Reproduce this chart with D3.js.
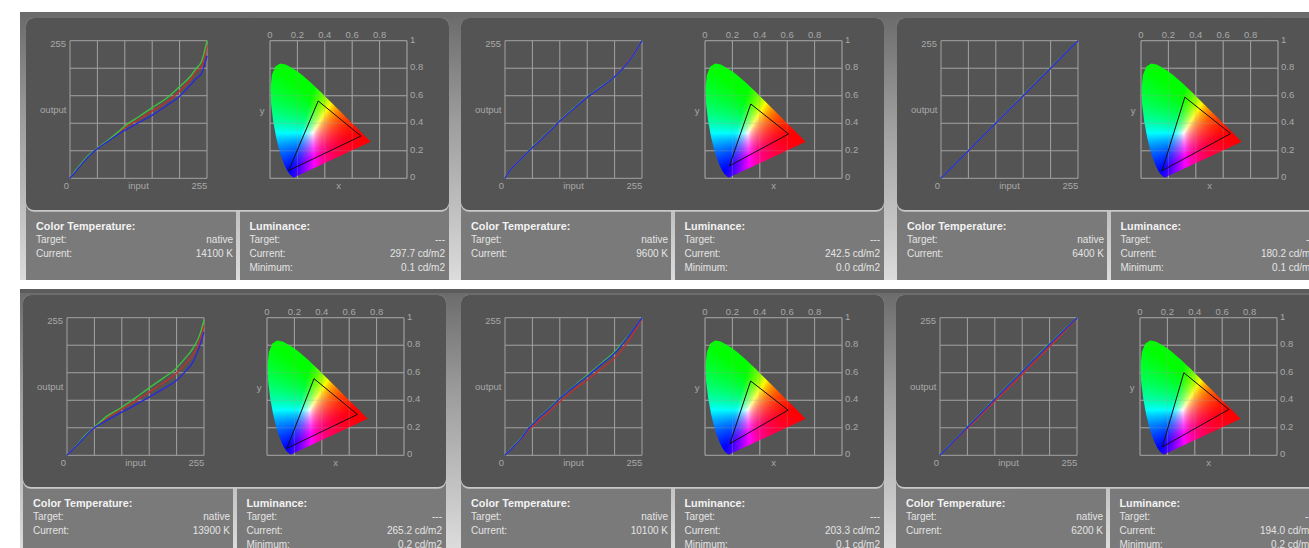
<!DOCTYPE html>
<html>
<head>
<meta charset="utf-8">
<script src="https://cdn.jsdelivr.net/npm/d3@7"></script>
<style>
  html, body { margin: 0; padding: 0; background: #ffffff; }
  svg { display: block; font-family: Arial, "Liberation Sans", sans-serif; }
</style>
</head>
<body>
<svg id="chart" width="1309" height="548"></svg>
<script>
// ---------------- Gamma curves (input 0-255 -> output 0-255) ----------------
const gammaIn1    = [0, 10, 20, 35, 51, 70, 90, 102, 128, 153, 179, 204, 225, 235, 245, 255];
const gammaRed1   = [0, 13, 25, 42, 56, 69, 84, 94, 109, 125, 141, 162, 184, 198, 207, 247];
const gammaGreen1 = [0, 14, 26, 43, 56, 70, 86, 97, 114, 131, 148, 170, 190, 204, 217, 255];
const gammaBlue1  = [0, 12, 24, 41, 55, 68, 82, 89, 103, 117, 134, 152, 174, 185, 195, 227];

const gammaIn2    = [0, 12, 28, 51, 65, 85, 102, 128, 153, 179, 204, 215, 230, 255];
const gammaRed2   = [0, 19, 35, 58, 71, 90, 107, 129, 150, 169, 188, 200, 218, 255];
const gammaGreen2 = [0, 18, 34, 58, 71, 90, 107, 130, 151, 170, 188, 199, 216, 255];
const gammaBlue2  = [0, 18, 34, 57, 70, 89, 106, 129, 150, 169, 188, 199, 216, 255];

const gammaIn3    = [0, 51, 102, 153, 204, 255];
const gammaRed3   = [0, 50, 101, 153, 204, 255];
const gammaGreen3 = [0, 51, 102, 154, 205, 255];
const gammaBlue3  = [0, 51, 102, 153, 204, 255];

const gammaIn4    = [0, 20, 35, 51, 75, 102, 128, 153, 179, 204, 220, 235, 248, 255];
const gammaRed4   = [0, 20, 37, 51, 70, 86, 101, 117, 134, 152, 169, 187, 215, 241];
const gammaGreen4 = [0, 21, 38, 52, 73, 89, 107, 125, 143, 162, 180, 199, 226, 251];
const gammaBlue4  = [0, 20, 36, 51, 65, 80, 94, 108, 123, 139, 155, 174, 206, 229];

const gammaIn5    = [0, 15, 30, 45, 55, 65, 80, 104, 128, 155, 180, 205, 230, 255];
const gammaRed5   = [0, 15, 30, 48, 56, 66, 79, 101, 121, 141, 161, 181, 212, 253];
const gammaGreen5 = [0, 16, 32, 52, 62, 72, 85, 108, 128, 150, 171, 193, 222, 255];
const gammaBlue5  = [0, 15, 31, 51, 61, 71, 84, 107, 127, 148, 169, 190, 221, 255];

const gammaIn6    = [0, 51, 102, 153, 204, 255];
const gammaRed6   = [0, 50, 100, 150, 201, 254];
const gammaGreen6 = [0, 53, 105, 156, 207, 255];
const gammaBlue6  = [0, 52, 104, 155, 206, 255];

// ---------------- Measured gamut primaries (CIE 1931 x, y) ----------------
const gamutRed   = [[0.664, 0.307], [0.610, 0.322], [0.654, 0.325], [0.660, 0.297], [0.607, 0.328], [0.648, 0.333]];
const gamutGreen = [[0.352, 0.562], [0.334, 0.540], [0.320, 0.590], [0.343, 0.557], [0.333, 0.540], [0.320, 0.600]];
const gamutBlue  = [[0.136, 0.056], [0.178, 0.090], [0.154, 0.055], [0.145, 0.050], [0.182, 0.085], [0.163, 0.060]];

// ---------------- Readouts ----------------
const colorTempTarget   = ["native", "native", "native", "native", "native", "native"];
const colorTempCurrent  = ["14100 K", "9600 K", "6400 K", "13900 K", "10100 K", "6200 K"];
const luminanceTarget   = ["---", "---", "---", "---", "---", "---"];
const luminanceCurrent  = ["297.7 cd/m2", "242.5 cd/m2", "180.2 cd/m2", "265.2 cd/m2", "203.3 cd/m2", "194.0 cd/m2"];
const luminanceMinimum  = ["0.1 cd/m2", "0.0 cd/m2", "0.1 cd/m2", "0.2 cd/m2", "0.1 cd/m2", "0.2 cd/m2"];

// ---------------- Axis ticks and labels ----------------
const gammaTicks = [0, 51, 102, 153, 204, 255];
const cieTicks = [0, 0.2, 0.4, 0.6, 0.8, 1];
const cieTopLabels = ["0", "0.2", "0.4", "0.6", "0.8"];
const cieSideLabels = ["0", "0.2", "0.4", "0.6", "0.8", "1"];

// CIE 1931 2° spectral locus, 380-700 nm
const spectralLocus = [
  [0.1741,0.0050],[0.1740,0.0050],[0.1738,0.0049],[0.1736,0.0049],[0.1733,0.0048],[0.1730,0.0048],
  [0.1726,0.0048],[0.1721,0.0048],[0.1714,0.0051],[0.1703,0.0058],[0.1689,0.0069],[0.1669,0.0086],
  [0.1644,0.0109],[0.1611,0.0138],[0.1566,0.0177],[0.1510,0.0227],[0.1440,0.0297],[0.1355,0.0399],
  [0.1241,0.0578],[0.1096,0.0868],[0.0913,0.1327],[0.0687,0.2007],[0.0454,0.2950],[0.0235,0.4127],
  [0.0082,0.5384],[0.0039,0.6548],[0.0139,0.7502],[0.0389,0.8120],[0.0743,0.8338],[0.1142,0.8262],
  [0.1547,0.8059],[0.1929,0.7816],[0.2296,0.7543],[0.2658,0.7243],[0.3016,0.6923],[0.3373,0.6589],
  [0.3731,0.6245],[0.4087,0.5896],[0.4441,0.5547],[0.4788,0.5202],[0.5125,0.4866],[0.5448,0.4544],
  [0.5752,0.4242],[0.6029,0.3965],[0.6270,0.3725],[0.6482,0.3514],[0.6658,0.3340],[0.6801,0.3197],
  [0.6915,0.3083],[0.7006,0.2993],[0.7079,0.2920],[0.7140,0.2859],[0.7190,0.2809],[0.7230,0.2770],
  [0.7260,0.2740],[0.7283,0.2717],[0.7300,0.2700],[0.7320,0.2680],[0.7334,0.2666],[0.7347,0.2653]
];

const gammaInputs = [gammaIn1, gammaIn2, gammaIn3, gammaIn4, gammaIn5, gammaIn6];
const gammaReds   = [gammaRed1, gammaRed2, gammaRed3, gammaRed4, gammaRed5, gammaRed6];
const gammaGreens = [gammaGreen1, gammaGreen2, gammaGreen3, gammaGreen4, gammaGreen5, gammaGreen6];
const gammaBlues  = [gammaBlue1, gammaBlue2, gammaBlue3, gammaBlue4, gammaBlue5, gammaBlue6];

// ---------------- Layout ----------------
const panelOrigins = [[26, 18], [461, 18], [897, 18], [23, 295], [461, 295], [896, 295]];
const rowBands = [{ y: 12, h: 268 }, { y: 289, h: 259 }];
const BOX_W = 423, BOX_H = 192;
const PLOT_W = 137, PLOT_H = 137.6;
const GRID_COLOR = "#a2a2a2";
const LABEL_COLOR = "#a8a8a8";
const channelColors = { red: "#c0302e", green: "#3cc23c", blue: "#2a2ad8" };

const svg = d3.select("#chart");
const defs = svg.append("defs");

const bgGrad = defs.append("linearGradient").attr("id", "rowBg")
  .attr("x1", 0).attr("y1", 0).attr("x2", 0).attr("y2", 1);
bgGrad.append("stop").attr("offset", "0%").attr("stop-color", "#6a6a6a");
bgGrad.append("stop").attr("offset", "40%").attr("stop-color", "#9c9c9c");
bgGrad.append("stop").attr("offset", "100%").attr("stop-color", "#dcdcdc");

rowBands.forEach(r => {
  svg.append("rect").attr("x", 20).attr("y", r.y).attr("width", 1289).attr("height", r.h)
    .attr("fill", "url(#rowBg)");
});
// dark toolbar strip along the top of the lower row
svg.append("rect").attr("x", 20).attr("y", 289).attr("width", 1289).attr("height", 4).attr("fill", "#5c5c5c");

// Scales shared by every panel
const gx = d3.scaleLinear().domain([0, 255]).range([0, PLOT_W]);
const gy = d3.scaleLinear().domain([0, 255]).range([PLOT_H, 0]);
const cx = d3.scaleLinear().domain([0, 1]).range([0, PLOT_W]);
const cy = d3.scaleLinear().domain([0, 1]).range([PLOT_H, 0]);

// Spectral locus clip
const locusPath = d3.line().x(d => cx(d[0])).y(d => cy(d[1]))(spectralLocus) + "Z";
defs.append("clipPath").attr("id", "locusClip").append("path").attr("d", locusPath);

// Chromaticity colours rendered to a bitmap (xyY -> XYZ -> sRGB, normalised to the brightest channel)
function chromaticityImage() {
  const k = 3;
  const cw = Math.round(PLOT_W * k), ch = Math.round(PLOT_H * k);
  const canvas = document.createElement("canvas");
  canvas.width = cw; canvas.height = ch;
  const ctx = canvas.getContext("2d");
  const img = ctx.createImageData(cw, ch);
  for (let j = 0; j < ch; j++) {
    for (let i = 0; i < cw; i++) {
      const x = cx.invert((i + 0.5) / k);
      const y = Math.max(cy.invert((j + 0.5) / k), 0.003);
      const X = x / y, Y = 1, Z = (1 - x - y) / y;
      let r = 3.2406 * X - 1.5372 * Y - 0.4986 * Z;
      let g = -0.9689 * X + 1.8758 * Y + 0.0415 * Z;
      let b = 0.0557 * X - 0.2040 * Y + 1.0570 * Z;
      r = Math.max(r, 0); g = Math.max(g, 0); b = Math.max(b, 0);
      const m = Math.max(r, g, b, 1e-6);
      const enc = v => Math.round(255 * Math.pow(v / m, 1.0));
      const p = (j * cw + i) * 4;
      img.data[p] = enc(r); img.data[p + 1] = enc(g); img.data[p + 2] = enc(b); img.data[p + 3] = 255;
    }
  }
  ctx.putImageData(img, 0, 0);
  return canvas.toDataURL();
}
const chromaURL = chromaticityImage();

function drawGrid(g, xs, ys, xt, yt, opacity) {
  const grid = g.append("g").attr("stroke", GRID_COLOR).attr("stroke-width", 1).attr("opacity", opacity);
  grid.selectAll(".v").data(xt).join("line")
    .attr("x1", d => xs(d)).attr("x2", d => xs(d)).attr("y1", 0).attr("y2", PLOT_H);
  grid.selectAll(".h").data(yt).join("line")
    .attr("x1", 0).attr("x2", PLOT_W).attr("y1", d => ys(d)).attr("y2", d => ys(d));
}

function label(g, x, y, text, anchor, opts = {}) {
  return g.append("text").attr("x", x).attr("y", y).attr("text-anchor", anchor)
    .attr("font-size", opts.size || 9.5).attr("font-weight", opts.weight || "normal")
    .attr("fill", opts.color || LABEL_COLOR).text(text);
}

panelOrigins.forEach(([ox, oy], i) => {
  const rowBottom = i < 3 ? 280 : 548;
  const g = svg.append("g").attr("transform", `translate(${ox},${oy})`);

  // readout boxes
  const infoTop = BOX_H - 4;
  const infoH = rowBottom - oy - infoTop;
  g.append("rect").attr("x", 0).attr("y", infoTop).attr("width", 210).attr("height", infoH).attr("fill", "#7a7a7a");
  g.append("rect").attr("x", 214).attr("y", infoTop).attr("width", BOX_W - 214).attr("height", infoH).attr("fill", "#7a7a7a");

  // dark chart box with a light lower rim
  g.append("rect").attr("x", 0).attr("y", 0).attr("width", BOX_W).attr("height", BOX_H + 1.8)
    .attr("rx", 8).attr("fill", "#c9c9c9");
  g.append("rect").attr("x", 0).attr("y", 0).attr("width", BOX_W).attr("height", BOX_H)
    .attr("rx", 8).attr("fill", "#545454");

  // ---- gamma plot ----
  const gg = g.append("g").attr("transform", "translate(44,22.7)");
  drawGrid(gg, gx, gy, gammaTicks, gammaTicks, 1);
  label(gg, -4, 6.7, "255", "end");
  label(gg, -3.5, 72.7, "output", "end");
  label(gg, -3.7, PLOT_H + 10.8, "0", "middle");
  label(gg, gx(127.5), PLOT_H + 10.8, "input", "middle");
  label(gg, PLOT_W + 0.3, PLOT_H + 10.8, "255", "end");

  const inputs = gammaInputs[i];
  const curve = d3.line().x(d => gx(d[0])).y(d => gy(d[1])).curve(d3.curveMonotoneX);
  [["red", gammaReds[i]], ["green", gammaGreens[i]], ["blue", gammaBlues[i]]].forEach(([ch, vals]) => {
    gg.append("path").datum(inputs.map((v, k) => [v, vals[k]]))
      .attr("d", curve).attr("fill", "none")
      .attr("stroke", channelColors[ch]).attr("stroke-width", 1.4);
  });

  // ---- CIE 1931 chromaticity plot ----
  const cg = g.append("g").attr("transform", "translate(244,22.7)");
  drawGrid(cg, cx, cy, cieTicks, cieTicks, 1);
  cg.append("image").attr("href", chromaURL).attr("x", 0).attr("y", 0)
    .attr("width", PLOT_W).attr("height", PLOT_H).attr("preserveAspectRatio", "none")
    .attr("clip-path", "url(#locusClip)");
  drawGrid(cg, cx, cy, cieTicks, cieTicks, 0.28);

  const tri = [gamutRed[i], gamutGreen[i], gamutBlue[i]];
  cg.append("path").attr("d", d3.line().x(d => cx(d[0])).y(d => cy(d[1]))(tri) + "Z")
    .attr("fill", "none").attr("stroke", "#111").attr("stroke-width", 1);

  cieTopLabels.forEach((t, k) => label(cg, cx(cieTicks[k]), -2.3, t, "middle"));
  cieSideLabels.forEach((t, k) => label(cg, PLOT_W + 3, cy(cieTicks[k]) + 2.2, t, "start"));
  label(cg, -8, 73.4, "y", "middle");
  label(cg, cx(0.5), PLOT_H + 10.8, "x", "middle");

  // ---- readouts ----
  const titleOpts = { size: 10.8, weight: "bold", color: "#f2f2f2" };
  const textOpts = { size: 10, color: "#e4e4e4" };
  label(g, 10, 211.7, "Color Temperature:", "start", titleOpts);
  label(g, 10, 225, "Target:", "start", textOpts);
  label(g, 207, 225, colorTempTarget[i], "end", textOpts);
  label(g, 10, 238.5, "Current:", "start", textOpts);
  label(g, 207, 238.5, colorTempCurrent[i], "end", textOpts);

  label(g, 223.5, 211.7, "Luminance:", "start", titleOpts);
  label(g, 223.5, 225, "Target:", "start", textOpts);
  label(g, 419, 225, luminanceTarget[i], "end", textOpts);
  label(g, 223.5, 238.5, "Current:", "start", textOpts);
  label(g, 419, 238.5, luminanceCurrent[i], "end", textOpts);
  label(g, 223.5, 252.5, "Minimum:", "start", textOpts);
  label(g, 419, 252.5, luminanceMinimum[i], "end", textOpts);
});
</script>
</body>
</html>
